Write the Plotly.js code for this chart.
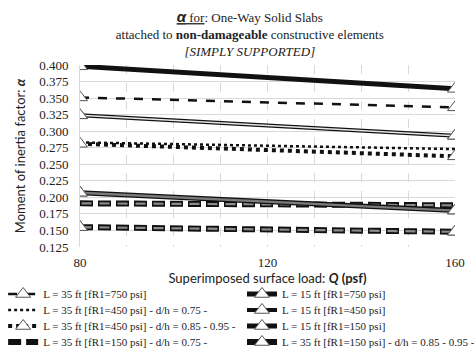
<!DOCTYPE html>
<html><head><meta charset="utf-8">
<script src="https://cdn.plot.ly/plotly-3.0.1.min.js"></script>
<style>html,body{margin:0;padding:0;background:#fff}#chart{width:474px;height:351px}</style>
</head><body><div id="chart"></div>
<script>
const loads = [80, 160];
const s35_750 = [0.351, 0.336];
const s15_750 = [0.398, 0.364];
const s35_450_075 = [0.283, 0.273];
const s15_450 = [0.324, 0.293];
const s35_450_085 = [0.281, 0.262];
const s15_150 = [0.207, 0.180];
const s35_150_075 = [0.191, 0.188];
const s35_150_085 = [0.155, 0.148];
const names = {
  a: "L = 35 ft [fR1=750 psi]",
  b: "L = 15 ft [fR1=750 psi]",
  c: "L = 35 ft [fR1=450 psi] - d/h = 0.75 -",
  d: "L = 15 ft [fR1=450 psi]",
  e: "L = 35 ft [fR1=450 psi] - d/h = 0.85 - 0.95 -",
  f: "L = 15 ft [fR1=150 psi]",
  g: "L = 35 ft [fR1=150 psi] - d/h = 0.75 -",
  h: "L = 35 ft [fR1=150 psi] - d/h = 0.85 - 0.95 -"
};
const tri = {symbol: 'triangle-up', size: 13, color: '#ffffff', line: {color: '#555555', width: 1}};
function tr(y, name, line, withMarker, legendId, show) {
  return {x: loads, y: y, name: name, type: 'scatter',
    mode: withMarker ? 'lines+markers' : 'lines',
    line: line, marker: tri, legend: legendId, showlegend: show !== false, hoverinfo: 'skip'};
}
function markersOnly(y) {
  return {x: loads, y: y, type: 'scatter', mode: 'markers', marker: tri, showlegend: false, hoverinfo: 'skip'};
}
const capOuter = {color: '#111', width: 6, dash: '13px,5px'};
const capInner = {color: '#8c8c8c', width: 2.2, dash: '0px,1.5px,10px,6.5px'};
const data = [
  tr(s35_750, names.a, {color: '#111', width: 2.5, dash: 'dash'}, true, 'legend'),
  tr(s35_450_075, names.c, {color: '#111', width: 2.5, dash: 'dot'}, false, 'legend2'),
  tr(s35_450_085, names.e, {color: '#111', width: 4, dash: 'dot'}, true, 'legend3'),
  tr(s35_150_075, names.g, capOuter, false, 'legend4'),
  tr(s35_150_075, '', capInner, false, 'legend4', false),
  tr(s15_750, names.b, {color: '#111', width: 5}, true, 'legend5'),
  tr(s15_450, names.d, {color: '#111', width: 4}, true, 'legend6'),
  tr(s15_450, '', {color: '#e6e6e6', width: 1.6}, false, 'legend6', false),
  tr(s15_150, names.f, {color: '#111', width: 5}, true, 'legend7'),
  tr(s15_150, '', {color: '#7a7a7a', width: 2.4}, false, 'legend7', false),
  tr(s35_150_085, names.h, capOuter, true, 'legend8'),
  tr(s35_150_085, '', capInner, false, 'legend8', false),
  markersOnly(s15_450), markersOnly(s15_150), markersOnly(s35_150_085)
];
const legFont = {family: 'Liberation Serif, serif', size: 11, color: '#222'};
const layout = {
  width: 474, height: 351,
  margin: {l: 80, r: 19, t: 65, b: 104, autoexpand: false},
  paper_bgcolor: '#fff', plot_bgcolor: '#fff',
  font: {family: 'Liberation Serif, Times New Roman, serif', color: '#222', size: 12},
  title: {
    text: '<span style="font-family:Liberation Sans;font-size:15px"><b><i><u>α</u></i></b></span><u> for</u>: One-Way Solid Slabs<br>attached to <b>non-damageable</b> constructive elements<br><i>[SIMPLY SUPPORTED]</i>',
    font: {family: 'Liberation Serif, serif', size: 13, color: '#222'},
    x: 0.527, xanchor: 'center', y: 0.937, yanchor: 'top', xref: 'container', yref: 'container'
  },
  xaxis: {
    range: [80, 160], tickvals: [80, 120, 160], ticks: '', ticklabelstandoff: 6,
    showgrid: true, gridcolor: '#d9d9d9', griddash: 'dash', gridwidth: 1,
    minor: {dtick: 10, tick0: 80, showgrid: true, gridcolor: '#d9d9d9', griddash: 'dash'},
    zeroline: false, showline: false,
    tickfont: {family: 'Liberation Serif, serif', size: 13, color: '#222'},
    title: {text: 'Superimposed surface load: <b><i>Q</i> (psf)</b>', font: {family: 'Lato, sans-serif', size: 13, color: '#222'}, standoff: 4}
  },
  yaxis: {
    range: [0.125, 0.400], dtick: 0.025, tick0: 0.125, tickformat: '.3f', ticks: '', ticklabelstandoff: 8,
    showgrid: true, gridcolor: '#d9d9d9', gridwidth: 1, zeroline: false,
    showline: true, linecolor: '#d9d9d9',
    tickfont: {family: 'Liberation Serif, serif', size: 13, color: '#222'},
    title: {text: 'Moment of inertia factor: <b><i>α</i></b>', font: {family: 'Lato, sans-serif', size: 13, color: '#222'}, standoff: 10}
  },
  showlegend: true
};
const legIds = ['legend', 'legend2', 'legend3', 'legend4', 'legend5', 'legend6', 'legend7', 'legend8'];
const rowY = [-0.2582, -0.3461, -0.4341, -0.5220];
legIds.forEach(function (id, i) {
  layout[id] = {
    orientation: 'v', x: i < 4 ? -0.205 : 0.432, xanchor: 'left',
    y: rowY[i % 4], yanchor: 'middle',
    font: legFont, itemwidth: 30, tracegroupgap: 0, bgcolor: 'rgba(0,0,0,0)'
  };
});
Plotly.newPlot('chart', data, layout, {staticPlot: true});
</script></body></html>
